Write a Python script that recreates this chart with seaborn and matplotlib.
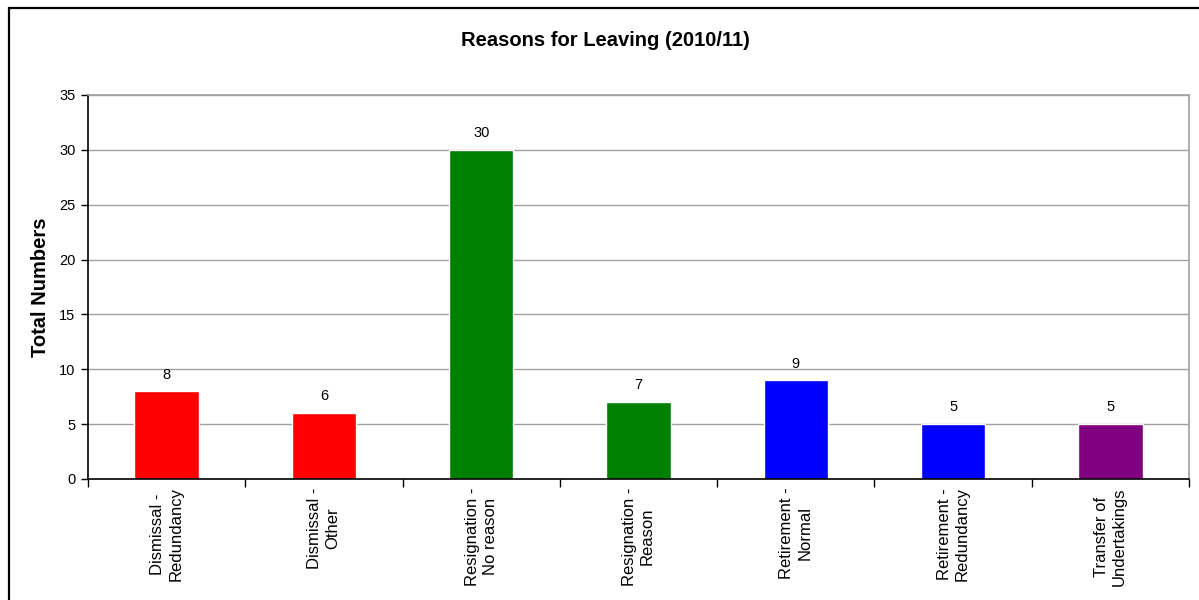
import matplotlib
matplotlib.use("Agg")
import matplotlib.pyplot as plt
import seaborn as sns
import pandas as pd
from matplotlib.patches import Rectangle

categories = ["Dismissal -\nRedundancy", "Dismissal -\nOther", "Resignation -\nNo reason",
              "Resignation -\nReason", "Retirement -\nNormal", "Retirement -\nRedundancy",
              "Transfer of\nUndertakings"]
values = [8, 6, 30, 7, 9, 5, 5]
colors = ["#FF0000", "#FF0000", "#008000", "#008000", "#0000FF", "#0000FF", "#800080"]
title = "Reasons for Leaving (2010/11)"
ylabel = "Total Numbers"
yticks = [0, 5, 10, 15, 20, 25, 30, 35]

sns.set_theme(style="white")
plt.rcParams['font.family'] = ['Liberation Sans', 'DejaVu Sans']
plt.rcParams['text.color'] = 'black'
plt.rcParams['axes.labelcolor'] = 'black'
plt.rcParams['xtick.color'] = 'black'
plt.rcParams['ytick.color'] = 'black'

df = pd.DataFrame({"cat": categories, "val": values})

fig = plt.figure(figsize=(11.99, 6.0), dpi=100)
ax = fig.add_axes([88/1199, 1 - 479/600, (1189-88)/1199, (479-95)/600])

sns.barplot(data=df, x="cat", y="val", hue="cat", palette=colors, legend=False,
            width=0.41, ax=ax, saturation=1)

ax.set_ylim(0, 35)
ax.set_xlim(-0.5, len(categories) - 0.5)
ax.set_yticks(yticks)
ax.set_yticklabels([str(t) for t in yticks], fontsize=10.5)
ax.yaxis.grid(True, color="#a0a0a0", linewidth=1)
ax.set_axisbelow(True)

ax.set_xticks(range(len(categories)))
ax.set_xticklabels(categories, rotation=90, fontsize=12, ha="center", va="top",
                   multialignment="center", linespacing=1.25)
ax.set_xticks([i - 0.5 for i in range(len(categories) + 1)], minor=True)
ax.tick_params(axis="x", which="major", length=0, pad=6, bottom=True)
ax.tick_params(axis="x", which="minor", length=6, width=1, color="black",
               direction="out", bottom=True)
ax.tick_params(axis="y", length=5, width=1, color="black", direction="out", left=True, pad=4)

ax.set_xlabel("")
ax.set_ylabel(ylabel, fontsize=14.5, fontweight="bold")
ax.yaxis.set_label_coords(-(88 - 50) / 1101, 0.5)

for side in ["left", "bottom"]:
    ax.spines[side].set_color("black")
    ax.spines[side].set_linewidth(1.2)
for side in ["top", "right"]:
    ax.spines[side].set_color("#a0a0a0")
    ax.spines[side].set_linewidth(1.2)

for c in ax.containers:
    ax.bar_label(c, padding=7, fontsize=10.5, color="black")

fig.text(605/1199, 1 - 40/600, title, ha="center", va="center", fontsize=14.5,
         fontweight="bold", color="black")

fig.patches.append(Rectangle((8.5/1199, -0.1), 1.2, 0.1 + (600 - 8)/600,
                             transform=fig.transFigure, fill=False,
                             edgecolor="black", linewidth=1.6, figure=fig))

fig.savefig("out.png", dpi=100)
